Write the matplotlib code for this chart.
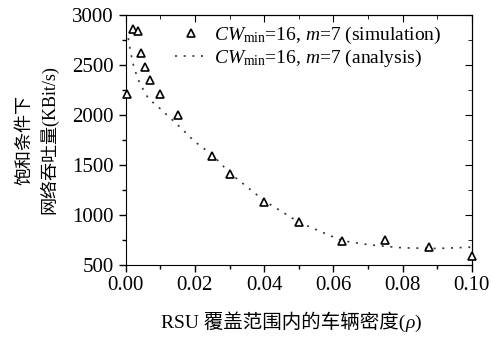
import matplotlib

matplotlib.use("Agg")

import matplotlib.pyplot as plt
from matplotlib.offsetbox import AnchoredOffsetbox, HPacker, TextArea
from matplotlib.ticker import MultipleLocator

plt.rcParams["font.family"] = ["Liberation Serif", "Noto Sans CJK SC"]
plt.rcParams["mathtext.fontset"] = "custom"
plt.rcParams["mathtext.rm"] = "Liberation Serif"
plt.rcParams["mathtext.it"] = "Liberation Serif:italic"

# simulation points (triangles)
sim_rho = [0.0005, 0.002, 0.0035, 0.0045, 0.0055, 0.007, 0.01, 0.015,
           0.025, 0.03, 0.04, 0.05, 0.0625, 0.075, 0.0875, 0.1]
sim_thr = [2210, 2855, 2840, 2620, 2475, 2350, 2210, 2000,
           1590, 1410, 1130, 925, 740, 750, 675, 590]

# analytical curve (dotted)
ana_rho = [0.0001, 0.0005, 0.0008, 0.0014, 0.0024, 0.004, 0.0065, 0.01, 0.015,
           0.02, 0.025, 0.03, 0.04, 0.05, 0.0625, 0.07, 0.08, 0.09, 0.1]
ana_thr = [2750, 2800, 2760, 2630, 2470, 2320, 2165, 2060, 1900,
           1730, 1600, 1420, 1140, 925, 740, 700, 668, 662, 675]

sim_label = r"$\mathit{CW}_{\mathrm{min}}$=16, $\mathit{m}$=7 (simulation)"
ana_label = r"$\mathit{CW}_{\mathrm{min}}$=16, $\mathit{m}$=7 (analysis)"

fig = plt.figure(figsize=(4.91, 3.38), dpi=100)
ax = fig.add_axes([0.256, 0.217, 0.705, 0.739])

ax.plot(sim_rho, sim_thr, linestyle="none", marker="^", markersize=6,
        markerfacecolor="white", markeredgecolor="black", markeredgewidth=1.2,
        label=sim_label, clip_on=False, zorder=3)
ax.plot(ana_rho, ana_thr, color="#333333", linewidth=1.2,
        linestyle=(0, (1.2, 4)), label=ana_label)

ax.set_xlim(0, 0.1)
ax.set_ylim(500, 3000)
ax.xaxis.set_major_locator(MultipleLocator(0.02))
ax.xaxis.set_minor_locator(MultipleLocator(0.01))
ax.yaxis.set_major_locator(MultipleLocator(500))
ax.yaxis.set_minor_locator(MultipleLocator(250))
ax.xaxis.set_major_formatter(lambda v, p: f"{v:.2f}")
ax.tick_params(which="major", direction="out", length=5, width=1, labelsize=15)
ax.tick_params(which="minor", direction="out", length=3, width=1)

top = ax.secondary_xaxis("top")
top.xaxis.set_major_locator(MultipleLocator(0.02))
top.xaxis.set_minor_locator(MultipleLocator(0.01))
top.tick_params(which="major", direction="in", length=5, labeltop=False)
top.tick_params(which="minor", direction="in", length=3)
right = ax.secondary_yaxis("right")
right.yaxis.set_major_locator(MultipleLocator(500))
right.yaxis.set_minor_locator(MultipleLocator(250))
right.tick_params(which="major", direction="in", length=5, labelright=False)
right.tick_params(which="minor", direction="in", length=3)

# x label in pieces so that rho can be italic next to the CJK text
parts = [
    TextArea("RSU 覆盖范围内的车辆密度(", textprops=dict(fontsize=14)),
    TextArea("ρ", textprops=dict(fontsize=14, style="italic")),
    TextArea(")", textprops=dict(fontsize=14)),
]
xlab = AnchoredOffsetbox(loc="center", child=HPacker(children=parts, pad=0, sep=0),
                         frameon=False, bbox_to_anchor=(0.593, 0.047),
                         bbox_transform=fig.transFigure, borderpad=0, pad=0)
fig.add_artist(xlab)

ax.set_ylabel("饱和条件下\n网络吞吐量(KBit/s)", fontsize=13, labelpad=10,
              linespacing=1.4)

ax.legend(loc="upper right", bbox_to_anchor=(0.935, 0.99), frameon=False,
          fontsize=14, handlelength=1.6, handletextpad=0.4, labelspacing=0.1,
          borderaxespad=0.0)

fig.savefig("out.png", dpi=100)
